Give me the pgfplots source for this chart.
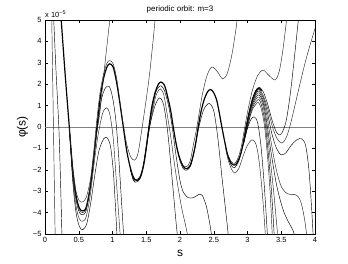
\documentclass[border=0pt]{standalone}
\usepackage{fontspec}
\setmainfont{Liberation Sans}
\usepackage{pgfplots}
\pgfplotsset{compat=1.18}
\begin{document}
\begin{tikzpicture}
\useasboundingbox (0bp,0bp) rectangle (348bp,264bp);
\begin{axis}[
  at={(45bp,30bp)}, anchor=south west,
  scale only axis, width=270bp, height=214bp,
  xmin=0,xmax=4,ymin=-5,ymax=5,
  xtick={0,0.5,1,1.5,2,2.5,3,3.5,4}, xticklabels={0,0.5,1,1.5,2,2.5,3,3.5,4},
  ytick={-5,-4,-3,-2,-1,0,1,2,3,4,5}, yticklabels={−5,−4,−3,−2,−1,0,1,2,3,4,5},
  tick align=inside, major tick length=3bp,
  tick style={black, line width=0.4pt},
  ticklabel style={font=\fontsize{7.5}{9}\selectfont},
  title={periodic orbit: m=3},
  title style={font=\fontsize{8}{9}\selectfont, yshift=-3bp},
  xlabel={s}, ylabel={φ(s)},
  label style={font=\fontsize{12}{14}\selectfont},
  xlabel style={yshift=0bp},
  ylabel style={yshift=-2bp},
  axis line style={black, line width=0.5pt},
  cycle list={{black!85,solid}},
  every axis plot/.append style={line width=0.45pt, smooth, no markers},
]
% zero line
\addplot[sharp plot, gray, line width=0.6pt] coordinates {(0,0)(4,0)};
% main periodic orbit (thick bundle)
\addplot[line width=1.2pt, black] coordinates {(0.21,6.3)(0.24,5)(0.30,2.4)(0.36,0)(0.41,-2.0)(0.46,-3.2)(0.51,-3.8)(0.56,-3.92)(0.61,-3.75)(0.67,-2.8)(0.72,-1.5)(0.77,0)(0.82,1.4)(0.87,2.3)(0.92,2.82)(0.96,2.95)(1.01,2.8)(1.06,2.1)(1.11,1.1)(1.16,0)(1.21,-1.1)(1.26,-1.85)(1.31,-2.35)(1.36,-2.5)(1.41,-2.35)(1.46,-1.8)(1.50,-1.0)(1.54,0)(1.58,0.9)(1.63,1.6)(1.68,2.0)(1.72,2.1)(1.77,1.95)(1.81,1.5)(1.86,0.8)(1.90,0)(1.95,-0.9)(2.0,-1.5)(2.05,-1.85)(2.10,-1.95)(2.15,-1.8)(2.19,-1.4)(2.23,-0.8)(2.27,0)(2.31,0.7)(2.36,1.3)(2.41,1.65)(2.45,1.75)(2.49,1.65)(2.54,1.3)(2.58,0.7)(2.62,0)(2.67,-0.8)(2.71,-1.35)(2.76,-1.7)(2.81,-1.78)(2.85,-1.65)(2.90,-1.25)(2.94,-0.7)(2.98,0)(3.03,0.75)(3.08,1.35)(3.13,1.7)(3.17,1.8)(3.21,1.7)};
% early lines at the left
\addplot coordinates {(0.09,6)(0.10,5)(0.125,0)(0.15,-5)(0.155,-6)};
\addplot coordinates {(0.12,6)(0.13,5)(0.165,2.5)(0.205,0)(0.23,-2.5)(0.25,-5)(0.255,-6)};
% first trough family
\addplot coordinates {(0.36,0)(0.41,-1.8)(0.46,-3.0)(0.51,-3.45)(0.56,-3.5)(0.61,-3.3)(0.67,-2.5)(0.72,-1.2)(0.77,0.4)(0.82,1.7)(0.87,2.5)(0.92,3.0)(0.96,3.1)(1.01,2.95)(1.06,2.3)(1.11,1.2)(1.16,0.1)(1.21,-0.8)(1.27,-1.4)(1.33,-1.55)(1.38,-1.2)(1.44,0)(1.5,1.3)(1.55,2.5)(1.6,4)(1.63,5)(1.65,5.8)};
\addplot coordinates {(0.36,0)(0.41,-2.1)(0.46,-3.4)(0.51,-4.0)(0.56,-4.1)(0.61,-3.9)(0.67,-2.9)(0.72,-1.6)(0.77,-0.2)(0.83,1.2)(0.89,1.8)(0.95,1.9)(1.0,1.4)(1.05,0.3)(1.09,-1.3)(1.13,-3.3)(1.17,-5.3)};
\addplot coordinates {(0.36,0)(0.41,-2.3)(0.46,-3.7)(0.51,-4.3)(0.56,-4.4)(0.61,-4.2)(0.67,-3.2)(0.72,-1.9)(0.78,-0.5)(0.85,0.6)(0.91,0.9)(0.96,0.6)(1.01,-0.5)(1.05,-2.2)(1.09,-4.0)(1.12,-5.3)};
\addplot coordinates {(0.36,0)(0.41,-2.5)(0.46,-4.0)(0.51,-4.65)(0.56,-4.8)(0.62,-4.5)(0.68,-3.5)(0.74,-2.2)(0.8,-1.1)(0.87,-0.55)(0.92,-0.5)(0.97,-0.9)(1.01,-2.0)(1.04,-3.5)(1.07,-5.3)};
\addplot coordinates {(0.36,0)(0.41,-2.05)(0.46,-3.3)(0.51,-3.88)(0.56,-4.0)(0.61,-3.8)(0.67,-2.75)(0.72,-1.45)(0.77,-0.2)(0.81,0.6)(0.85,1.8)(0.9,3.3)(0.96,5)(0.98,5.6)};
% second trough family
\addplot coordinates {(1.26,-1.9)(1.31,-2.4)(1.36,-2.45)(1.41,-2.3)(1.46,-1.7)(1.54,0)(1.63,1.5)(1.68,1.85)(1.72,1.92)(1.77,1.7)(1.83,1.0)(1.88,0.1)(1.94,-1.3)(2.0,-2.5)(2.05,-3.05)(2.12,-3.3)(2.2,-3.3)(2.28,-3.15)(2.33,-3.2)(2.39,-3.7)(2.44,-4.5)(2.48,-5.3)};
\addplot coordinates {(1.26,-1.9)(1.31,-2.45)(1.36,-2.52)(1.41,-2.38)(1.46,-1.8)(1.55,0)(1.63,1.3)(1.67,1.65)(1.71,1.78)(1.76,1.5)(1.81,0.6)(1.86,-0.4)(1.94,-2.2)(2.02,-3.7)(2.09,-4.7)(2.12,-5.2)};
\addplot coordinates {(1.26,-1.95)(1.31,-2.5)(1.36,-2.57)(1.41,-2.4)(1.46,-1.8)(1.55,0)(1.63,1.0)(1.7,1.36)(1.76,1.0)(1.82,-0.3)(1.88,-2.3)(1.94,-4.4)(1.97,-5.3)};
% third trough family
\addplot coordinates {(2.0,-1.5)(2.05,-1.8)(2.10,-1.85)(2.15,-1.6)(2.2,-0.8)(2.25,0)(2.33,1.5)(2.4,2.4)(2.47,2.8)(2.55,2.6)(2.63,2.25)(2.7,2.5)(2.77,3.4)(2.83,4.6)(2.86,5.4)};
\addplot coordinates {(1.95,-0.95)(2.0,-1.6)(2.05,-1.95)(2.10,-2.02)(2.16,-1.8)(2.22,-1.0)(2.28,0)(2.35,0.8)(2.43,1.1)(2.5,0.75)(2.56,-0.5)(2.62,-2.3)(2.68,-4)(2.72,-5.2)};
% fourth trough family
\addplot coordinates {(2.71,-1.3)(2.76,-1.62)(2.81,-1.7)(2.86,-1.45)(2.91,-0.9)(2.96,0)(3.02,1.0)(3.08,1.8)(3.15,2.4)(3.23,2.66)(3.32,2.4)(3.41,2.2)(3.47,2.6)(3.52,3.5)(3.56,4.5)(3.59,5.3)};
\addplot coordinates {(2.94,-0.7)(2.98,0)(3.03,0.77)(3.08,1.39)(3.13,1.75)(3.18,1.85)(3.24,1.6)(3.3,1.05)(3.37,0.25)(3.43,-0.25)(3.48,-0.37)(3.53,-0.15)(3.58,0.4)(3.64,1.7)(3.7,3.4)(3.76,5.2)(3.78,5.8)};
\addplot coordinates {(2.94,-0.7)(2.98,0)(3.03,0.73)(3.08,1.31)(3.13,1.65)(3.17,1.75)(3.23,1.5)(3.3,0.85)(3.37,0)(3.44,-0.55)(3.51,-0.75)(3.58,-0.45)(3.65,0.3)(3.75,1.65)(3.87,3.2)(4.0,4.6)};
\addplot coordinates {(2.94,-0.72)(2.985,0)(3.03,0.7)(3.08,1.26)(3.13,1.59)(3.17,1.68)(3.23,1.4)(3.29,0.75)(3.36,-0.3)(3.43,-1.0)(3.5,-1.3)(3.57,-1.2)(3.65,-0.85)(3.73,-0.6)(3.8,-0.55)(3.86,-0.85)(3.91,-2.0)(3.95,-3.8)(3.98,-5.5)};
\addplot coordinates {(2.94,-0.74)(2.99,0)(3.03,0.67)(3.08,1.2)(3.13,1.51)(3.17,1.6)(3.22,1.35)(3.28,0.65)(3.35,-0.7)(3.42,-1.9)(3.49,-2.7)(3.56,-3.05)(3.63,-3.15)(3.69,-3.15)(3.75,-3.25)(3.8,-3.6)(3.85,-4.4)(3.89,-5.4)};
\addplot coordinates {(2.94,-0.76)(2.99,0)(3.03,0.63)(3.08,1.13)(3.13,1.42)(3.17,1.5)(3.22,1.25)(3.27,0.55)(3.34,-1.0)(3.43,-2.7)(3.52,-3.8)(3.6,-4.4)(3.67,-4.8)(3.72,-5.3)};
\addplot coordinates {(2.94,-0.78)(2.995,0)(3.03,0.58)(3.08,1.05)(3.13,1.32)(3.17,1.4)(3.22,1.1)(3.27,0.3)(3.33,-1.3)(3.39,-3.1)(3.44,-4.8)(3.46,-5.5)};
\addplot coordinates {(2.94,-0.8)(3.0,0)(3.04,0.55)(3.08,0.96)(3.13,1.2)(3.17,1.28)(3.21,1.0)(3.26,0.2)(3.31,-1.3)(3.36,-3.2)(3.4,-5.3)};
\addplot coordinates {(2.94,-0.82)(3.0,0)(3.04,0.5)(3.08,0.86)(3.13,1.08)(3.16,1.15)(3.2,0.9)(3.25,0.1)(3.3,-1.5)(3.34,-3.3)(3.37,-5.3)};
\addplot coordinates {(2.71,-1.4)(2.76,-1.8)(2.81,-1.9)(2.87,-1.6)(2.93,-0.9)(2.99,-0.15)(3.05,0.35)(3.1,0.47)(3.15,0.2)(3.2,-0.9)(3.25,-2.8)(3.3,-5.3)};
\addplot coordinates {(2.67,-0.9)(2.71,-1.5)(2.76,-1.95)(2.81,-2.15)(2.87,-1.95)(2.93,-1.4)(3.0,-0.85)(3.07,-0.6)(3.13,-0.85)(3.18,-1.8)(3.23,-3.5)(3.27,-5.3)};
\end{axis}
\node[anchor=south west, font=\fontsize{7.5}{9}\selectfont, inner sep=0pt] at (45bp,246bp) {x 10$^{\mbox{\fontsize{5.5}{6}\selectfont −5}}$};
\end{tikzpicture}
\end{document}
